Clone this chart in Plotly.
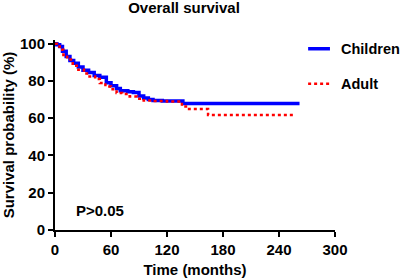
import plotly.graph_objects as go

children_t = [0, 2, 5, 8, 12, 16, 20, 25, 30, 36, 42, 48, 55, 60, 66, 70, 78, 84, 90, 95, 100, 105, 115, 125, 134, 137, 262]
children_s = [100, 99.5, 98.5, 96, 93.2, 91, 89.5, 87.5, 85.7, 84.5, 83, 82, 79, 77.5, 76, 74.8, 74.2, 73.8, 72, 70.8, 70, 69.5, 69.3, 69.2, 69.2, 67.9, 67.9]

adult_t = [0, 2, 5, 9, 13, 19, 25, 31, 37, 43, 48, 54, 60, 66, 72, 80, 88, 95, 105, 120, 134, 136, 142, 164, 255]
adult_s = [100, 98.5, 96.8, 94, 91.5, 88.2, 86, 84, 82.4, 81, 78.9, 77, 75.5, 73.5, 73, 71.7, 70.5, 69.5, 69.2, 69, 69, 66.3, 65, 61.8, 61.8]

series_names = ["Children", "Adult"]
series_colors = ["#0000ff", "#ff0000"]

x_ticks = [0, 60, 120, 180, 240, 300]
y_ticks = [0, 20, 40, 60, 80, 100]

FONT = "Liberation Sans"

fig = go.Figure()
fig.add_trace(go.Scatter(x=children_t, y=children_s, mode="lines", name=series_names[0],
                         line=dict(color=series_colors[0], width=3.5, shape="hv"), showlegend=False))
fig.add_trace(go.Scatter(x=adult_t, y=adult_s, mode="lines", name=series_names[1],
                         line=dict(color=series_colors[1], width=2.5, shape="hv", dash="dot"), showlegend=False))

axis_common = dict(showgrid=False, zeroline=False, showline=True, linecolor="black", linewidth=2,
                   ticks="outside", ticklen=5, tickwidth=2, tickcolor="black", automargin=False,
                   tickfont=dict(family=FONT, size=15, color="black", weight="bold"))

# manual legend (paper coords)
leg_y = [0.954, 0.770]
shapes = []
annotations = []
for i, name in enumerate(series_names):
    shapes.append(dict(type="line", xref="paper", yref="paper", x0=0.904, x1=0.982, y0=leg_y[i], y1=leg_y[i],
                       line=dict(color=series_colors[i], width=3.5 if i == 0 else 2.5, dash="solid" if i == 0 else "dot")))
    annotations.append(dict(x=1.013, y=leg_y[i], xref="paper", yref="paper", text="<b>%s</b>" % name,
                            showarrow=False, xanchor="left", yanchor="middle",
                            font=dict(family=FONT, size=14.5, color="black")))
annotations.append(dict(x=20, y=10.5, xref="x", yref="y", text="<b>P>0.05</b>", showarrow=False,
                        xanchor="left", yanchor="middle", font=dict(family=FONT, size=15, color="black")))

fig.update_layout(
    width=400, height=278,
    margin=dict(l=55, r=65, t=40, b=48, autoexpand=False),
    paper_bgcolor="white", plot_bgcolor="white",
    title=dict(text="<b>Overall survival</b>", x=0.46, xanchor="center", y=0.971, yanchor="middle",
               font=dict(family=FONT, size=15, color="black")),
    xaxis=dict(range=[0, 300], tickvals=x_ticks,
               title=dict(text="<b>Time (months)</b>", font=dict(family=FONT, size=15, color="black"), standoff=10),
               **axis_common),
    yaxis=dict(range=[0, 102], tickvals=y_ticks,
               title=dict(text="<b>Survival probability (%)</b>", font=dict(family=FONT, size=15, color="black"), standoff=6),
               **axis_common),
    showlegend=False,
    shapes=shapes,
    annotations=annotations,
)

fig.write_html("out.html", config={"displayModeBar": False},
               post_script="document.body.style.margin='0';document.body.style.overflow='hidden';")
